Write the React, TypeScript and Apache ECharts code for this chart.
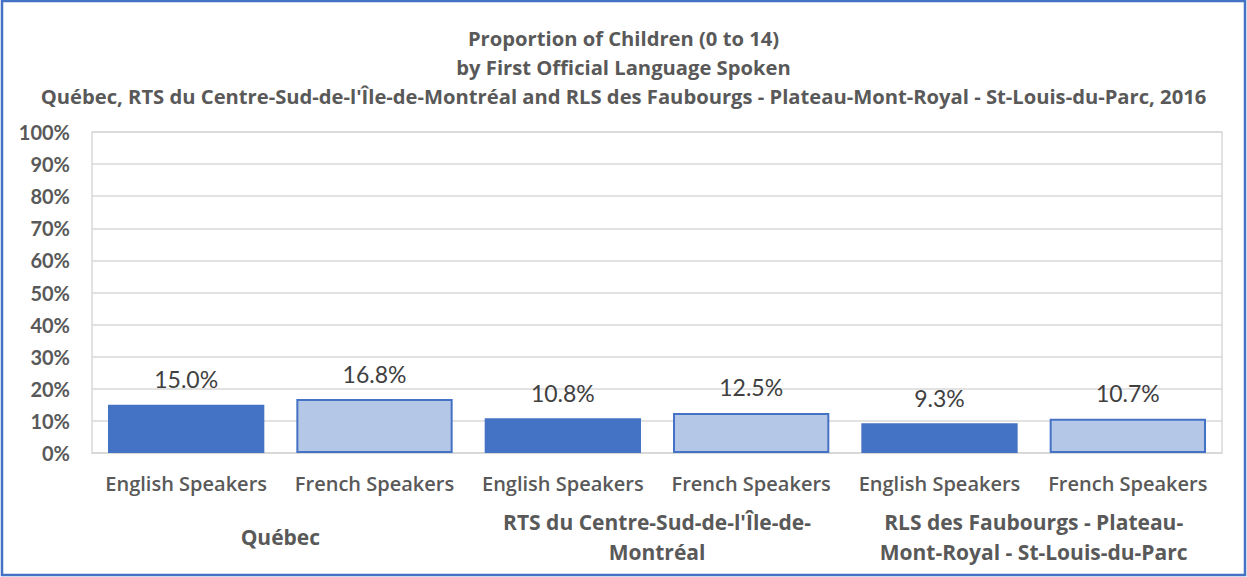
import React, { useEffect, useRef } from "react";
import * as echarts from "echarts";

const titleLines = [
  "Proportion of Children (0 to 14)",
  "by First Official Language Spoken",
  "Québec, RTS du Centre-Sud-de-l'Île-de-Montréal and RLS des Faubourgs - Plateau-Mont-Royal - St-Louis-du-Parc, 2016",
];
const groups = [
  "Québec",
  "RTS du Centre-Sud-de-l'Île-de-\nMontréal",
  "RLS des Faubourgs - Plateau-\nMont-Royal - St-Louis-du-Parc",
];
const languages = ["English Speakers", "French Speakers"];
const englishValues = [15.0, 10.8, 9.3];
const frenchValues = [16.8, 12.5, 10.7];
const yTicks = { min: 0, max: 100, interval: 10 };

const NUMFONT = "Lato";
const TEXTFONT = "Open Sans";
const GREY = "#595959";

export default function App() {
  const ref = useRef<HTMLDivElement>(null);
  useEffect(() => {
    document.body.style.margin = "0";
    const chart = echarts.init(ref.current!, null, { renderer: "svg" });
    const categories: string[] = [];
    const data: any[] = [];
    groups.forEach((g, i) => {
      categories.push(languages[0]);
      data.push({
        value: englishValues[i],
        itemStyle: { color: "#4472C4", borderColor: "#4472C4", borderWidth: 0 },
      });
      categories.push(languages[1]);
      data.push({
        value: frenchValues[i],
        itemStyle: { color: "#B4C7E7", borderColor: "#4472C4", borderWidth: 2 },
      });
    });
    chart.setOption({
      animation: false,
      title: {
        text: titleLines.join("\n"),
        left: "center",
        top: 18,
        textStyle: {
          fontFamily: TEXTFONT,
          fontSize: 20.2,
          fontWeight: "bold",
          color: GREY,
          lineHeight: 29,
        },
      },
      grid: {
        left: 92,
        right: 25,
        top: 132,
        bottom: 124,
        show: true,
        borderColor: "#D9D9D9",
        borderWidth: 1.5,
      },
      xAxis: [
        {
          type: "category",
          data: categories,
          axisLine: { lineStyle: { color: "#D9D9D9", width: 1.5 } },
          axisTick: { show: false },
          axisLabel: {
            interval: 0,
            margin: 20,
            fontFamily: TEXTFONT,
            fontSize: 20,
            fontWeight: 600,
            color: GREY,
          },
        },
        {
          type: "category",
          position: "bottom",
          data: groups,
          offset: 84,
          axisLine: { show: false },
          axisTick: { show: false },
          axisLabel: {
            interval: 0,
            margin: 0,
            verticalAlign: "middle",
            fontFamily: TEXTFONT,
            fontSize: 21,
            fontWeight: "bold",
            color: GREY,
            lineHeight: 30,
          },
        },
      ],
      yAxis: {
        type: "value",
        min: yTicks.min,
        max: yTicks.max,
        interval: yTicks.interval,
        axisLine: { show: false },
        axisTick: { show: false },
        splitLine: { lineStyle: { color: "#D9D9D9", width: 1.5 } },
        axisLabel: {
          formatter: "{value}%",
          margin: 22,
          fontFamily: NUMFONT,
          fontSize: 20,
          fontWeight: "bold",
          color: GREY,
        },
      },
      series: [
        {
          type: "bar",
          xAxisIndex: 0,
          barWidth: "83%",
          data,
          label: {
            show: true,
            position: "top",
            distance: 14,
            fontFamily: NUMFONT,
            fontSize: 23,
            color: "#404040",
            formatter: (p: any) => p.value.toFixed(1) + "%",
          },
        },
      ],
      graphic: [
        {
          type: "rect",
          shape: { x: 2, y: 1, width: 1243, height: 574 },
          style: { fill: "none", stroke: "#4472C4", lineWidth: 2.5 },
          silent: true,
        },
      ],
    });
    return () => chart.dispose();
  }, []);
  return <div ref={ref} style={{ width: 1247, height: 577 }} />;
}
